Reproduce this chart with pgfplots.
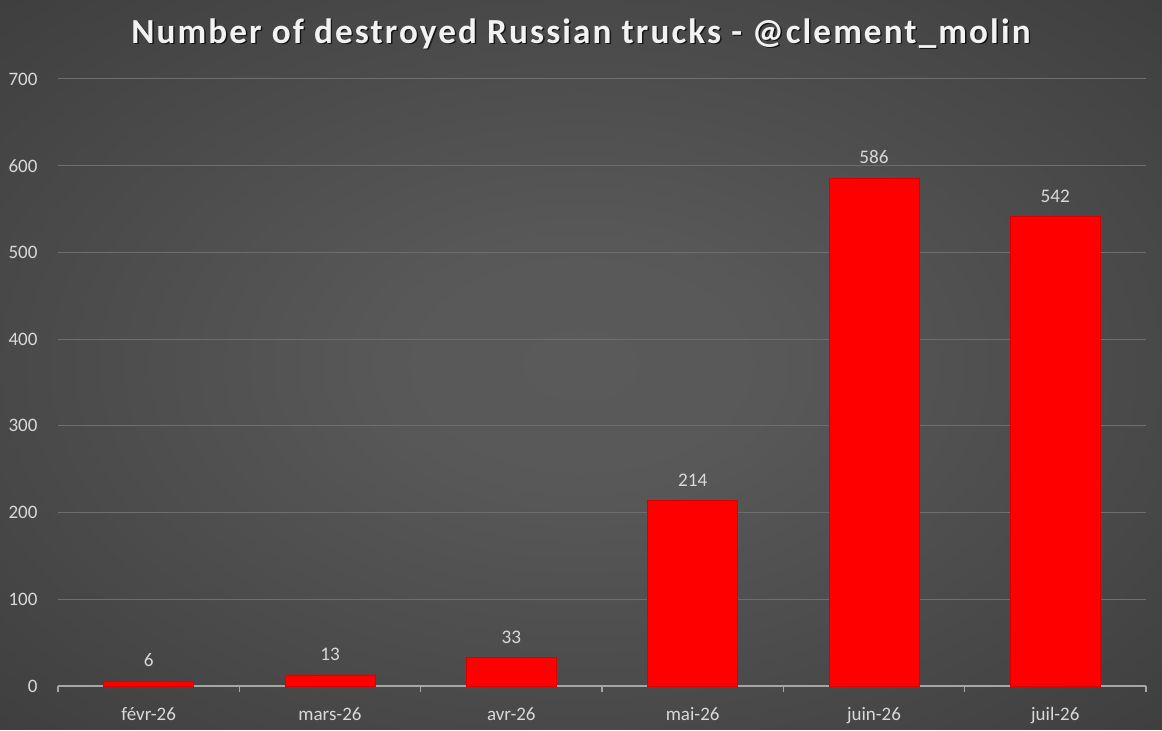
\documentclass[border=0pt]{standalone}
\usepackage{fontspec}
\setmainfont{Carlito}
\newfontfamily\titlefont[LetterSpace=6]{Carlito}
\usepackage{pgfplots}
\pgfplotsset{compat=1.18}
\definecolor{bgin}{HTML}{5A5A5A}
\definecolor{bgout}{HTML}{242424}
\definecolor{gridc}{HTML}{6E6E6E}
\definecolor{labc}{HTML}{D9D9D9}
\definecolor{axc}{HTML}{A6A6A6}
\pgfdeclareradialshading{bgshade}{\pgfpoint{0bp}{0bp}}{color(0bp)=(bgin); color(8bp)=(bgin!97!bgout); color(64bp)=(bgout); color(72bp)=(bgout)}
\begin{document}
\begin{tikzpicture}
\path[shading=bgshade] (0,0) rectangle (581pt,365pt);
\node[text=black, font=\fontsize{17.6}{20}\selectfont\titlefont\bfseries, opacity=0.7] at (291.2pt,347.5pt) {Number of destroyed Russian trucks - @clement\_molin};
\node[text=white!95!black, font=\fontsize{17.6}{20}\selectfont\titlefont\bfseries] at (290.5pt,348.2pt) {Number of destroyed Russian trucks - @clement\_molin};
\begin{axis}[
  at={(29pt,22pt)}, anchor=south west,
  scale only axis, width=544pt, height=303.5pt,
  xmin=-0.5, xmax=5.5, ymin=0, ymax=700,
  ybar, bar width=45pt,
  xtick={0,1,2,3,4,5},
  xticklabels={févr-26,mars-26,avr-26,mai-26,juin-26,juil-26},
  minor xtick={-0.5,0.5,1.5,2.5,3.5,4.5,5.5},
  major x tick style={draw=none},
  minor x tick style={draw=axc, line width=0.6pt},
  minor tick length=3pt,
  tick align=outside,
  ytick={0,100,...,700},
  major y tick style={draw=none},
  ymajorgrids, grid style={gridc, line width=0.5pt},
  axis x line*=bottom, axis y line*=left,
  x axis line style={axc, line width=0.8pt, -},
  y axis line style={draw=none},
  tick label style={text=labc, font=\fontsize{9.5}{11}\selectfont},
  /pgf/number format/assume math mode=true,
  xticklabel style={yshift=-3pt},
  yticklabel style={xshift=-2.5pt},
  nodes near coords,
  every node near coord/.append style={text=labc, font=\fontsize{9.6}{11}\selectfont, yshift=3.5pt},
  clip=false,
]
\addplot[fill=red, draw=red!85!black, line width=0.2pt] coordinates {(0,6) (1,13) (2,33) (3,214) (4,586) (5,542)};
\end{axis}
\end{tikzpicture}
\end{document}
